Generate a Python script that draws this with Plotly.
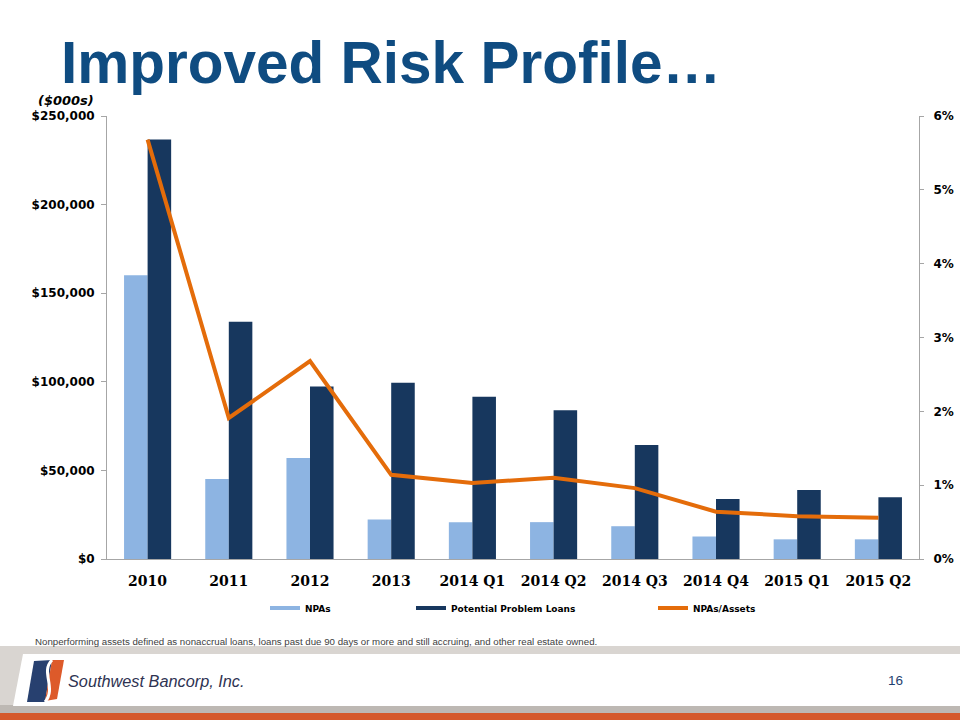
import plotly.graph_objects as go

# ---------------- data ----------------
categories = ["2010", "2011", "2012", "2013", "2014 Q1", "2014 Q2",
              "2014 Q3", "2014 Q4", "2015 Q1", "2015 Q2"]
npas = [160100, 45200, 57000, 22300, 20800, 20800, 18500, 12700, 11100, 11100]
potential_problem_loans = [236800, 133900, 97300, 99500, 91500, 83900,
                           64300, 33900, 38900, 34900]
npas_to_assets = [0.0568, 0.0191, 0.0268, 0.0114, 0.0103, 0.0110,
                  0.0096, 0.0064, 0.0058, 0.0056]
left_ticks = [0, 50000, 100000, 150000, 200000, 250000]
left_tick_labels = ["$0", "$50,000", "$100,000", "$150,000", "$200,000", "$250,000"]
right_ticks = [0, 0.01, 0.02, 0.03, 0.04, 0.05, 0.06]
right_tick_labels = ["0%", "1%", "2%", "3%", "4%", "5%", "6%"]

# ---------------- geometry helpers (pixel -> paper) ----------------
W, H = 960, 720
ML, MR, MT, MB = 107, 41, 116, 161
PW, PH = W - ML - MR, H - MT - MB


def px(x):
    return (x - ML) / PW


def py(y):
    return (H - MB - y) / PH


C_NPA = "#8DB4E2"
C_PPL = "#17375E"
C_LINE = "#E46C0A"
AXIS_GRAY = "#A6A6A6"

fig = go.Figure()
fig.add_trace(go.Bar(x=categories, y=npas, name="NPAs", marker_color=C_NPA,
                     showlegend=False))
fig.add_trace(go.Bar(x=categories, y=potential_problem_loans,
                     name="Potential Problem Loans", marker_color=C_PPL,
                     showlegend=False))
fig.add_trace(go.Scatter(x=categories, y=npas_to_assets, name="NPAs/Assets",
                         mode="lines", yaxis="y2",
                         line=dict(color=C_LINE, width=4), showlegend=False))

# legend entries (line swatches like the original)
fig.add_trace(go.Scatter(x=[None], y=[None], mode="lines", name="NPAs",
                         line=dict(color=C_NPA, width=4), legend="legend"))
fig.add_trace(go.Scatter(x=[None], y=[None], mode="lines",
                         name="Potential Problem Loans",
                         line=dict(color=C_PPL, width=4), legend="legend2"))
fig.add_trace(go.Scatter(x=[None], y=[None], mode="lines", name="NPAs/Assets",
                         line=dict(color=C_LINE, width=4), legend="legend3"))

legend_font = dict(family="DejaVu Sans", size=9, color="#000000", weight="bold")


def leg(xpix):
    return dict(x=xpix / W, xref="container", y=1 - 608 / H, yref="container",
                xanchor="left", yanchor="middle", orientation="h",
                font=legend_font, bgcolor="rgba(0,0,0,0)", borderwidth=0,
                itemwidth=30)


shapes = []
# footer band
shapes.append(dict(type="rect", xref="paper", yref="paper", x0=px(0), x1=px(960),
                   y0=py(646), y1=py(720), fillcolor="#D9D5D1", line_width=0,
                   layer="below"))
shapes.append(dict(type="rect", xref="paper", yref="paper", x0=px(0), x1=px(960),
                   y0=py(705), y1=py(713), fillcolor="#BDB8B3", line_width=0,
                   layer="below"))
shapes.append(dict(type="path", xref="paper", yref="paper",
                   path=f"M {px(23)},{py(654)} L {px(960)},{py(654)} L {px(960)},{py(706)} L {px(13)},{py(706)} Z",
                   fillcolor="#FFFFFF", line_width=0, layer="below"))
shapes.append(dict(type="rect", xref="paper", yref="paper", x0=px(0), x1=px(960),
                   y0=py(713), y1=py(720), fillcolor="#D5592B", line_width=0,
                   layer="below"))
# logo
shapes.append(dict(type="path", xref="paper", yref="paper",
                   path=f"M {px(34)},{py(661)} L {px(52)},{py(660)} L {px(45)},{py(702)} L {px(27)},{py(702)} Z",
                   fillcolor="#27406F", line_width=0))
shapes.append(dict(type="path", xref="paper", yref="paper",
                   path=f"M {px(52)},{py(660)} L {px(64)},{py(660)} L {px(57)},{py(699)} L {px(45)},{py(701)} Z",
                   fillcolor="#DD5A2A", line_width=0))
shapes.append(dict(type="path", xref="paper", yref="paper",
                   path=f"M {px(52)},{py(660)} C {px(40)},{py(672)} {px(57)},{py(688)} {px(45)},{py(702)}",
                   line=dict(color="#FFFFFF", width=3)))

annotations = [
    dict(text="Improved Risk Profile…", x=px(59), y=py(62), xref="paper",
         yref="paper", xanchor="left", yanchor="middle", showarrow=False,
         font=dict(family="Liberation Sans", size=58.5, color="#0F4C81",
                   weight="bold")),
    dict(text="<b><i>($000s)</i></b>", x=px(66), y=py(100), xref="paper",
         yref="paper", xanchor="center", yanchor="middle", showarrow=False,
         font=dict(family="DejaVu Sans", size=13, color="#000000")),
    dict(text="Nonperforming assets defined as nonaccrual loans, loans past due 90 days or more and still accruing, and other real estate owned.",
         x=px(33), y=py(641), xref="paper", yref="paper", xanchor="left",
         yanchor="middle", showarrow=False,
         font=dict(family="Liberation Sans", size=9.7, color="#404040")),
    dict(text="<i>Southwest Bancorp, Inc.</i>", x=px(66), y=py(681), xref="paper",
         yref="paper", xanchor="left", yanchor="middle", showarrow=False,
         font=dict(family="Liberation Sans", size=16.3, color="#2E3352")),
    dict(text="16", x=px(895), y=py(680), xref="paper", yref="paper",
         xanchor="center", yanchor="middle", showarrow=False,
         font=dict(family="Liberation Sans", size=13.5, color="#1F3F6F")),
]

tickfont_y = dict(family="DejaVu Sans", size=12, color="#000000", weight="bold")

fig.update_layout(
    template="none",
    width=W, height=H,
    margin=dict(l=ML, r=MR, t=MT, b=MB, pad=0),
    paper_bgcolor="#FFFFFF", plot_bgcolor="#FFFFFF",
    barmode="group", bargap=0.42, bargroupgap=0,
    legend=leg(265), legend2=leg(411), legend3=leg(653),
    shapes=shapes, annotations=annotations,
    xaxis=dict(type="category", automargin=False, showgrid=False, showline=True,
               linecolor=AXIS_GRAY, linewidth=1, ticks="", ticklen=0,
               ticklabelstandoff=9, zeroline=False,
               tickfont=dict(family="DejaVu Serif", size=14, color="#000000",
                             weight="bold")),
    yaxis=dict(range=[0, 250000], tickvals=left_ticks, ticktext=left_tick_labels,
               automargin=False, showgrid=False, zeroline=False,
               showline=True, linecolor=AXIS_GRAY, linewidth=1,
               ticks="outside", ticklen=5, tickcolor=AXIS_GRAY,
               ticklabelstandoff=4, tickfont=tickfont_y),
    yaxis2=dict(range=[0, 0.06], tickvals=right_ticks, ticktext=right_tick_labels,
                overlaying="y", side="right", automargin=False, showgrid=False,
                zeroline=False, showline=True, linecolor=AXIS_GRAY, linewidth=1,
                ticks="outside", ticklen=4, tickcolor=AXIS_GRAY,
                ticklabelstandoff=7, tickfont=tickfont_y),
)

fig.write_html("out.html",
               config={"displayModeBar": False},
               post_script="document.body.style.margin='0';"
                           "document.body.style.overflow='hidden';")
